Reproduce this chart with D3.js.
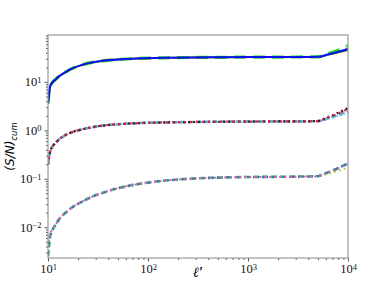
<!DOCTYPE html>
<html>
<head>
<meta charset="utf-8">
<script src="https://cdn.jsdelivr.net/npm/d3@7"></script>
<style>
  body { margin: 0; background: #fff; }
  svg { display: block; }
  .tick text { font-family: "Liberation Serif", "DejaVu Serif", serif; font-size: 12.5px; fill: #111; }
</style>
</head>
<body>
<div id="chart"></div>
<script>
// multipole grid (x) shared by every curve
let ell = [10, 10.5, 11, 12, 13, 15, 18, 22, 27, 35, 50, 80, 150, 300, 600, 1000, 2000, 3000, 4000, 5000, 5500, 6000, 7000, 8000, 9000, 10000];

// top group (~30)
let topGreen =     [3.6, 8, 9.6, 11.4, 13.2, 16, 19.5, 22.5, 25, 27.3, 29, 30.5, 31.5, 32, 32.3, 32.5, 32.6, 32.7, 32.8, 33, 34.5, 37, 41, 45, 50, 56];
let topBlue =      [3.6, 8, 9.6, 11.4, 13.2, 16, 19.5, 22.5, 25, 27.3, 29, 30.5, 31.5, 32, 32.3, 32.5, 32.6, 32.7, 32.8, 33, 34, 36, 39, 42, 45, 48];
let topDarkGreen = [3.6, 8, 9.6, 11.4, 13.2, 16, 19.5, 22.5, 25, 27.3, 29, 30.5, 31.5, 32, 32.3, 32.5, 32.6, 32.7, 32.8, 33, 33.8, 35.5, 38, 40.5, 43, 45.5];

// middle group (~1.5)
let midGray =  [0.2, 0.36, 0.45, 0.56, 0.66, 0.8, 0.94, 1.05, 1.15, 1.25, 1.34, 1.41, 1.46, 1.49, 1.51, 1.52, 1.53, 1.53, 1.54, 1.55, 1.62, 1.72, 1.9, 2.1, 2.3, 2.5];
let midCyan =  [0.2, 0.36, 0.45, 0.56, 0.66, 0.8, 0.94, 1.05, 1.15, 1.25, 1.34, 1.41, 1.46, 1.49, 1.51, 1.52, 1.53, 1.53, 1.54, 1.55, 1.6, 1.68, 1.83, 2.0, 2.18, 2.35];
let midRed =   [0.2, 0.36, 0.45, 0.56, 0.66, 0.8, 0.94, 1.05, 1.15, 1.25, 1.34, 1.41, 1.46, 1.49, 1.51, 1.52, 1.53, 1.53, 1.54, 1.55, 1.64, 1.78, 2.0, 2.25, 2.5, 2.8];
let midBlack = [0.2, 0.36, 0.45, 0.56, 0.66, 0.8, 0.94, 1.05, 1.15, 1.25, 1.34, 1.41, 1.46, 1.49, 1.51, 1.52, 1.53, 1.53, 1.54, 1.55, 1.65, 1.8, 2.03, 2.3, 2.6, 2.9];

// bottom group (~0.1)
let lowTeal =    [0.0025, 0.0065, 0.0085, 0.0115, 0.015, 0.02, 0.027, 0.034, 0.042, 0.051, 0.064, 0.078, 0.092, 0.102, 0.107, 0.109, 0.11, 0.111, 0.112, 0.113, 0.12, 0.13, 0.148, 0.167, 0.187, 0.21];
let lowMagenta = [0.005, 0.0075, 0.009, 0.0118, 0.015, 0.02, 0.027, 0.034, 0.042, 0.051, 0.064, 0.078, 0.092, 0.102, 0.107, 0.109, 0.11, 0.111, 0.112, 0.113, 0.12, 0.13, 0.147, 0.165, 0.185, 0.205];
let lowLime =    [0.004, 0.007, 0.0088, 0.0116, 0.015, 0.02, 0.027, 0.034, 0.042, 0.051, 0.064, 0.078, 0.092, 0.102, 0.107, 0.109, 0.11, 0.111, 0.112, 0.113, 0.117, 0.123, 0.134, 0.146, 0.157, 0.168];

let xTicks = [10, 100, 1000, 10000];
let yTicks = [0.01, 0.1, 1, 10];

// svg size and margins
let svgWidth = 388;
let svgHeight = 291;
let margin = { top: 35, right: 40, bottom: 33, left: 48 };
let width = svgWidth - margin.left - margin.right;
let height = svgHeight - margin.top - margin.bottom;

let svg = d3.select("#chart")
  .append("svg")
  .attr("width", svgWidth)
  .attr("height", svgHeight);

let chartGroup = svg.append("g")
  .attr("transform", `translate(${margin.left}, ${margin.top})`);

let xScale = d3.scaleLog().domain([10, 10000]).range([0, width]);
let yScale = d3.scaleLog().domain([0.00232, 93]).range([height, 0]);

// superscript labels like 10^1
function powLabel(sel, v) {
  let e = Math.round(Math.log10(v));
  sel.text(null);
  sel.append("tspan").text("10");
  sel.append("tspan").attr("dy", "-0.45em").attr("font-size", "8.5px").text(e < 0 ? "\u2212" + (-e) : e);
}

// minor ticks
function minorVals(lo, hi) {
  let out = [];
  for (let p = lo; p < hi; p++) {
    for (let k = 2; k <= 9; k++) out.push(k * Math.pow(10, p));
  }
  return out;
}
let xMinor = minorVals(1, 4);
let yMinor = minorVals(-3, 2).filter(v => v >= 0.00232 && v <= 93);

chartGroup.append("g")
  .attr("transform", `translate(0, ${height})`)
  .call(d3.axisBottom(xScale).tickValues(xMinor).tickSize(2).tickFormat(""))
  .call(g => g.select(".domain").remove())
  .call(g => g.selectAll("line").attr("stroke", "#555"));

chartGroup.append("g")
  .call(d3.axisLeft(yScale).tickValues(yMinor).tickSize(2).tickFormat(""))
  .call(g => g.select(".domain").remove())
  .call(g => g.selectAll("line").attr("stroke", "#555"));

let xAxis = chartGroup.append("g")
  .attr("transform", `translate(0, ${height})`)
  .call(d3.axisBottom(xScale).tickValues(xTicks).tickSize(3.5).tickPadding(3));
xAxis.select(".domain").remove();
xAxis.selectAll("line").attr("stroke", "#555");
xAxis.selectAll(".tick text").each(function(d) { powLabel(d3.select(this), d); });

let yAxis = chartGroup.append("g")
  .call(d3.axisLeft(yScale).tickValues(yTicks).tickSize(3.5).tickPadding(3));
yAxis.select(".domain").remove();
yAxis.selectAll("line").attr("stroke", "#555");
yAxis.selectAll(".tick text").each(function(d) { powLabel(d3.select(this), d); });

// curves
let line = d3.line()
  .x(d => xScale(d[0]))
  .y(d => yScale(d[1]))
  .curve(d3.curveMonotoneX);

let series = [
  { vals: topGreen, color: "#22dd22", w: 3.2, dash: "12,7" },
  { vals: topDarkGreen, color: "#1a6b1a", w: 1.8, dash: null },
  { vals: topBlue, color: "#1010ee", w: 2, dash: null },
  { vals: midGray, color: "#7d8ea0", w: 2.6, dash: "5,3" },
  { vals: midCyan, color: "#33ccf5", w: 2, dash: "3,2,1,2" },
  { vals: midBlack, color: "#3a1420", w: 2.2, dash: "2,3" },
  { vals: midRed, color: "#e8204c", w: 2.2, dash: "2,4" },
  { vals: lowTeal, color: "#1f8a8c", w: 2.6, dash: "6,3" },
  { vals: lowLime, color: "#a8d62a", w: 1.8, dash: "2,3" },
  { vals: lowMagenta, color: "#f040f0", w: 1.6, dash: "2,3" }
];

chartGroup.append("clipPath").attr("id", "clip")
  .append("rect").attr("width", width).attr("height", height);

chartGroup.append("g")
  .attr("clip-path", "url(#clip)")
  .selectAll("path")
  .data(series)
  .enter()
  .append("path")
  .attr("d", s => line(ell.map((l, i) => [l, s.vals[i]])))
  .attr("fill", "none")
  .attr("stroke", s => s.color)
  .attr("stroke-width", s => s.w)
  .attr("stroke-dasharray", s => s.dash);

// frame
chartGroup.append("rect")
  .attr("width", width)
  .attr("height", height)
  .attr("fill", "none")
  .attr("stroke", "#999")
  .attr("stroke-width", 1.2);

// axis labels
svg.append("text")
  .attr("x", margin.left + width / 2)
  .attr("y", 277)
  .attr("text-anchor", "middle")
  .attr("font-family", "Liberation Serif, DejaVu Serif, serif")
  .attr("font-size", 14)
  .attr("font-style", "italic")
  .attr("font-weight", "bold")
  .text("\u2113\u2032");

let yLabel = svg.append("text")
  .attr("transform", `translate(14, ${margin.top + height / 2}) rotate(-90)`)
  .attr("text-anchor", "middle")
  .attr("font-family", "DejaVu Sans, sans-serif")
  .attr("font-size", 12)
  .attr("font-style", "italic");
yLabel.append("tspan").text("(S/N)");
yLabel.append("tspan").attr("dy", "0.35em").attr("font-size", 8.5).text("cum");
</script>
</body>
</html>
